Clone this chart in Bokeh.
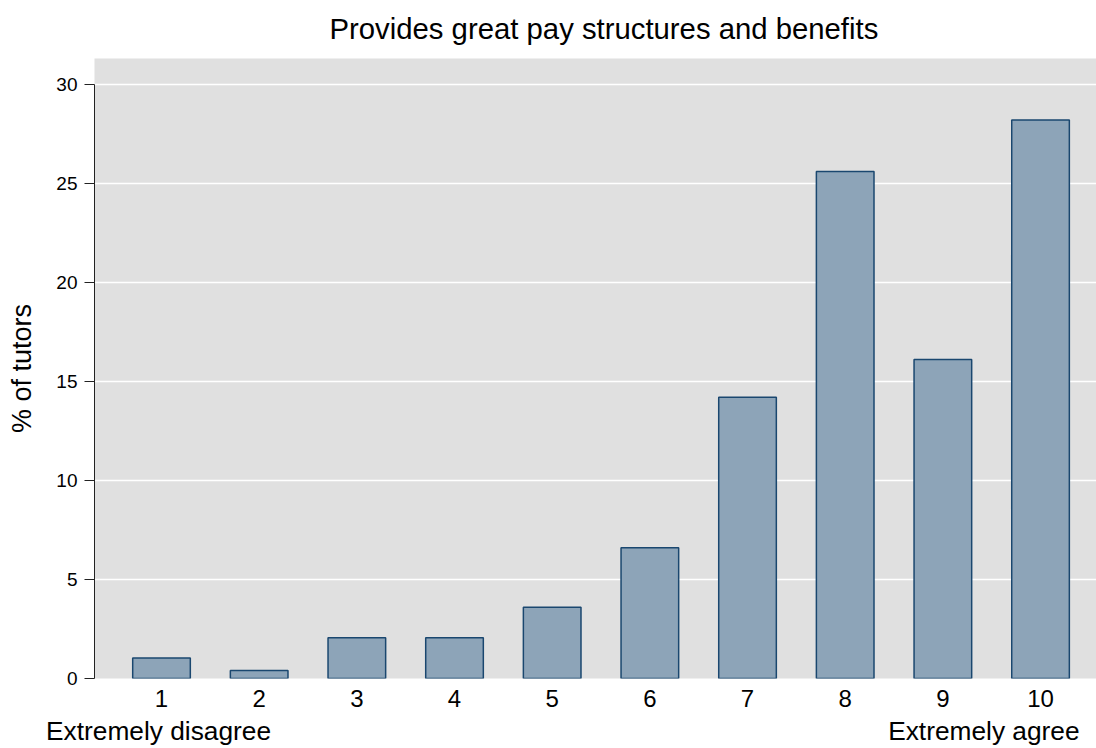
from bokeh.plotting import figure
from bokeh.models import Range1d, FixedTicker, LinearAxis
from bokeh.embed import file_html
from bokeh.resources import INLINE

# ---- data ----
scores = [1, 2, 3, 4, 5, 6, 7, 8, 9, 10]
pct_tutors = [1.03, 0.41, 2.06, 2.06, 3.6, 6.6, 14.2, 25.6, 16.1, 28.2]
y_ticks = [0, 5, 10, 15, 20, 25, 30]
title_text = "Provides great pay structures and benefits"
y_label = "% of tutors"
low_label = "Extremely disagree"
high_label = "Extremely agree"
# where the two end captions are centred on the x scale
end_label_pos = [0.97, 9.42]

FONT = "Liberation Sans"

p = figure(
    width=1096, height=748,
    output_backend="svg", toolbar_location=None,
    x_range=Range1d(0.314, 10.573), y_range=Range1d(0, 31.3),
    min_border_left=94, min_border_right=0,
    min_border_top=58, min_border_bottom=68,
    background_fill_color="#E0E0E0", border_fill_color="white",
    outline_line_color=None,
    title=title_text,
)

p.title.text_font = FONT
p.title.text_font_size = "29.3px"
p.title.text_font_style = "normal"
p.title.align = "left"
p.title.offset = 235
p.title.vertical_align = "top"
p.title.standoff = 23
p.title.text_color = "black"

p.vbar(x=scores, top=pct_tutors, width=0.59,
       fill_color="#8DA4B8", line_color="#1A476F", line_width=1.5)

# x axis
p.xaxis.ticker = FixedTicker(ticks=scores)
p.xaxis.axis_line_color = None
p.xaxis.major_tick_line_color = None
p.xaxis.minor_tick_line_color = None
p.xaxis.major_label_text_font = FONT
p.xaxis.major_label_text_font_size = "24px"
p.xaxis.major_label_text_color = "black"
p.xaxis.major_label_standoff = 5

# second row of x labels: the scale end captions
cap_axis = LinearAxis(ticker=FixedTicker(ticks=end_label_pos))
cap_axis.major_label_overrides = {end_label_pos[0]: low_label, end_label_pos[1]: high_label}
cap_axis.axis_line_color = None
cap_axis.major_tick_line_color = None
cap_axis.minor_tick_line_color = None
cap_axis.major_label_text_font = FONT
cap_axis.major_label_text_font_size = "26.3px"
cap_axis.major_label_text_color = "black"
cap_axis.major_label_standoff = 0
p.add_layout(cap_axis, "below")

# y axis
p.yaxis.ticker = FixedTicker(ticks=y_ticks)
p.yaxis.bounds = (y_ticks[0], y_ticks[-1])
p.yaxis.axis_line_color = "#222222"
p.yaxis.major_tick_line_color = "#222222"
p.yaxis.major_tick_out = 10
p.yaxis.major_tick_in = 0
p.yaxis.minor_tick_line_color = None
p.yaxis.major_label_text_font = FONT
p.yaxis.major_label_text_font_size = "19px"
p.yaxis.major_label_text_color = "black"
p.yaxis.major_label_standoff = 7
p.yaxis.axis_label = y_label
p.yaxis.axis_label_text_font = FONT
p.yaxis.axis_label_text_font_size = "27px"
p.yaxis.axis_label_text_font_style = "normal"
p.yaxis.axis_label_text_color = "black"
p.yaxis.axis_label_standoff = 16

# grid
p.xgrid.visible = False
p.ygrid.ticker = FixedTicker(ticks=y_ticks)
p.ygrid.grid_line_color = "white"
p.ygrid.grid_line_width = 1.3

open("out.html", "w").write(file_html(p, INLINE))
